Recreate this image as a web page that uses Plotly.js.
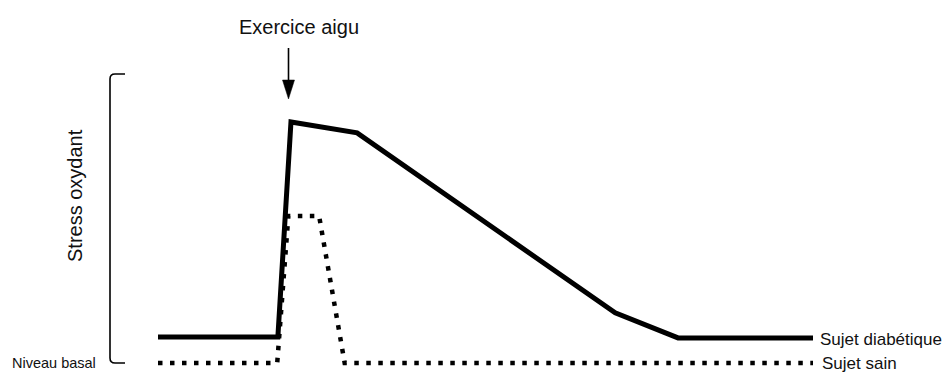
<!DOCTYPE html>
<html>
<head>
<meta charset="utf-8">
<script src="https://cdn.plot.ly/plotly-3.0.1.min.js"></script>
<style>html,body{margin:0;padding:0;background:#fff;}</style>
</head>
<body>
<div id="chart" style="width:946px;height:372px;"></div>
<script>
// ---- data (time in arbitrary units, oxidative stress in arbitrary units) ----
const diabeticTime   = [0, 18.3, 20.3, 30.4, 69.8, 79.4, 100];
const diabeticStress = [0.9, 0.9, 8.37, 7.99, 1.74, 0.87, 0.87];
const healthyTime    = [0, 18.2, 19.9, 24.6, 28.5, 100];
const healthyStress  = [0, 0, 5.1, 5.1, 0, 0];

const seriesNames = ['Sujet diabétique', 'Sujet sain'];
const yAxisLabel  = 'Stress oxydant';
const baseLabel   = 'Niveau basal';
const eventLabel  = 'Exercice aigu';

// ---- layout helpers (pixel -> paper) ----
const W = 946, H = 372;
const PX = x => x / W;
const PY = y => 1 - y / H;
const P = (x, y) => PX(x) + ',' + PY(y);

const font = 'Liberation Sans, Arial, Helvetica, sans-serif';

const traces = [
  {
    x: diabeticTime, y: diabeticStress, name: seriesNames[0],
    mode: 'lines', line: {color: '#000', width: 5, shape: 'linear'},
    hoverinfo: 'skip'
  },
  {
    x: healthyTime, y: healthyStress, name: seriesNames[1],
    mode: 'lines', line: {color: '#000', width: 4.5, dash: '4.5px,7.5px'},
    hoverinfo: 'skip'
  }
];

const layout = {
  width: W, height: H,
  margin: {l: 0, r: 0, t: 0, b: 0, pad: 0},
  paper_bgcolor: '#fff', plot_bgcolor: '#fff',
  showlegend: false,
  xaxis: {range: [-158 / 6.55, (W - 158) / 6.55], visible: false, fixedrange: true},
  yaxis: {range: [(363 - H) / 28.8, 363 / 28.8], visible: false, fixedrange: true},
  shapes: [
    // bracket
    {type: 'path', xref: 'paper', yref: 'paper',
     path: 'M' + P(125, 74) + ' L' + P(115, 74) + ' Q' + P(110, 74) + ' ' + P(110, 79) +
           ' L' + P(110, 358) + ' Q' + P(110, 363) + ' ' + P(115, 363) + ' L' + P(125, 363),
     line: {color: '#000', width: 1.6}},
    // arrow shaft
    {type: 'line', xref: 'paper', yref: 'paper',
     x0: PX(288.5), x1: PX(288.5), y0: PY(48), y1: PY(82),
     line: {color: '#000', width: 1.6}},
    // arrow head
    {type: 'path', xref: 'paper', yref: 'paper',
     path: 'M' + P(282.5, 80) + ' L' + P(294.5, 80) + ' L' + P(288.5, 99) + ' Z',
     fillcolor: '#000', line: {color: '#000', width: 0.5}}
  ],
  annotations: [
    {xref: 'paper', yref: 'paper', x: PX(299), y: PY(27), text: eventLabel,
     showarrow: false, xanchor: 'center', yanchor: 'middle',
     font: {family: font, size: 20, color: '#111'}},
    {xref: 'paper', yref: 'paper', x: PX(75), y: PY(196), text: yAxisLabel,
     showarrow: false, textangle: -90, xanchor: 'center', yanchor: 'middle',
     font: {family: font, size: 20, color: '#111'}},
    {xref: 'paper', yref: 'paper', x: PX(10), y: PY(363), text: baseLabel,
     showarrow: false, xanchor: 'left', yanchor: 'middle',
     font: {family: font, size: 14.5, color: '#111'}},
    {xref: 'paper', yref: 'paper', x: PX(818), y: PY(339), text: seriesNames[0],
     showarrow: false, xanchor: 'left', yanchor: 'middle',
     font: {family: font, size: 17, color: '#111'}},
    {xref: 'paper', yref: 'paper', x: PX(820), y: PY(363), text: seriesNames[1],
     showarrow: false, xanchor: 'left', yanchor: 'middle',
     font: {family: font, size: 17, color: '#111'}}
  ]
};

Plotly.newPlot('chart', traces, layout, {staticPlot: true, displayModeBar: false});
</script>
</body>
</html>
